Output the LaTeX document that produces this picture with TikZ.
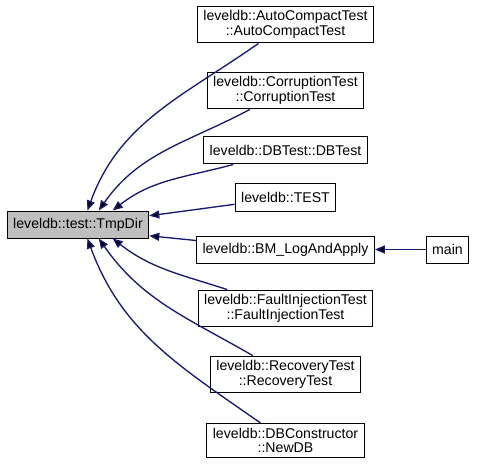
\documentclass[tikz,border=0pt]{standalone}
\usepackage{fontspec}
\setmainfont{Liberation Sans}
\usepackage{tikz}
\usetikzlibrary{
    positioning,
    arrows.meta
}
\definecolor{callblue}{HTML}{191970}
\definecolor{curgray}{HTML}{BFBFBF}
\tikzset{
    fn/.style={
        draw=black,
        fill=white,
        line width=0.75pt,
        align=center,
        inner xsep=4.5pt,
        inner ysep=3.4pt,
        minimum height=20.25pt,
        font=\fontsize{10.6}{11}\selectfont
    },
    call/.style={
        draw=callblue,
        line width=1pt,
        -{Triangle[length=7.5pt,width=6pt]}
    }
}

\begin{document}
\begin{tikzpicture}[
    x=0.75pt,
    y=-0.75pt
]
    \useasboundingbox (0,0) rectangle (479,467);

    % Funcion actual
    \node[fn, fill=curgray] (tmpdir) at (78,224.5)   {leveldb::test::TmpDir};

    % Llamadores
    \node[fn] (autocompact) at (285.5,24.5)  {leveldb::AutoCompactTest\\::AutoCompactTest};
    \node[fn] (corruption)  at (285.5,90.5)  {leveldb::CorruptionTest\\::CorruptionTest};
    \node[fn] (dbtest)      at (285.5,150.5) {leveldb::DBTest::DBTest};
    \node[fn] (test)        at (285.5,197.5) {leveldb::TEST};
    \node[fn] (logapply)    at (285.5,249.5) {leveldb::BM\_LogAndApply};
    \node[fn] (fault)       at (285.5,308.5) {leveldb::FaultInjectionTest\\::FaultInjectionTest};
    \node[fn] (recovery)    at (285.5,374.5) {leveldb::RecoveryTest\\::RecoveryTest};
    \node[fn] (newdb)       at (285.5,440.5) {leveldb::DBConstructor\\::NewDB};

    % main
    \node[fn] (main)        at (447.5,249.5) {main};

    % Llamadas
    \path[call]
        (autocompact) edge[out=215, in=70] (tmpdir.56)
        (corruption)  edge[out=208, in=55] (tmpdir.34)
        (dbtest)      edge[out=195, in=38] (tmpdir.22)
        (test)        edge (tmpdir.7)
        (logapply)    edge (tmpdir.-9)
        (fault)       edge[out=162, in=-38] (tmpdir.-22)
        (recovery)    edge[out=150, in=-55] (tmpdir.-34)
        (newdb)       edge[out=145, in=-70] (tmpdir.-56)
        (main)        edge (logapply);

\end{tikzpicture}
\end{document}
